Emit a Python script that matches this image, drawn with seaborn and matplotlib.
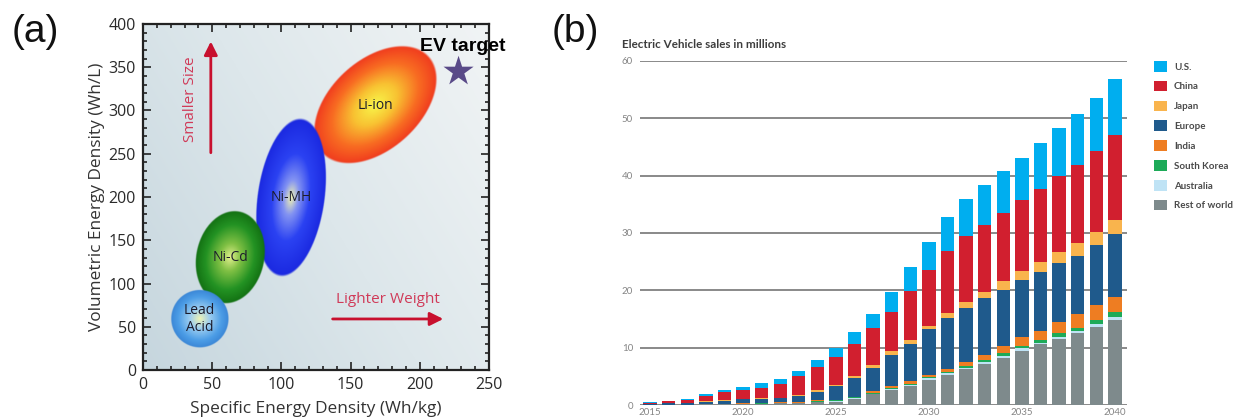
import numpy as np
import pandas as pd
import matplotlib
matplotlib.use("Agg")
import matplotlib.pyplot as plt
from matplotlib.colors import LinearSegmentedColormap
from matplotlib.patches import Patch
import seaborn as sns

# ---------------- panel (a): battery chemistries ----------------
chemistries = ["Lead\nAcid", "Ni-Cd", "Ni-MH", "Li-ion"]
specific_energy = [41, 63, 107, 168]      # Wh/kg, blob centres
volumetric_energy = [59, 130, 199, 306]   # Wh/L, blob centres
ev_target = {"specific": [228], "volumetric": [345]}

# ---------------- panel (b): EV sales ----------------
years = list(range(2015, 2041))
regions = ["U.S.", "China", "Japan", "Europe", "India", "South Korea",
           "Australia", "Rest of world"]
us = [0.12, 0.05, 0.05, 0.3, 0.3, 0.55, 0.75, 0.8, 0.9, 1.3, 1.6, 2.2, 2.5,
      3.4, 4.35, 5.0, 6.0, 6.6, 7.0, 7.3, 7.4, 8.1, 8.5, 9.0, 9.3, 9.8]
china = [0.1, 0.35, 0.55, 0.95, 1.5, 1.55, 1.85, 2.4, 3.2, 4.0, 4.85, 5.6, 6.5,
         6.9, 8.4, 9.7, 10.8, 11.5, 11.7, 11.9, 12.3, 12.6, 13.3, 13.6, 14.1, 14.9]
japan = [0.03, 0.05, 0.05, 0.1, 0.15, 0.1, 0.1, 0.1, 0.15, 0.25, 0.25, 0.25, 0.4,
         0.75, 0.7, 0.6, 0.9, 1.0, 1.1, 1.5, 1.6, 1.8, 1.9, 2.2, 2.3, 2.4]
europe = [0.15, 0.2, 0.3, 0.35, 0.4, 0.7, 0.75, 0.75, 1.2, 1.55, 2.3, 3.3, 4.1,
          5.3, 6.5, 7.9, 8.75, 9.4, 9.8, 9.8, 10.0, 10.3, 10.3, 10.2, 10.5, 11.0]
india = [0.0, 0.02, 0.0, 0.05, 0.05, 0.05, 0.07, 0.07, 0.07, 0.15, 0.15, 0.1, 0.25,
         0.3, 0.45, 0.45, 0.55, 0.7, 1.0, 1.2, 1.5, 1.5, 1.9, 2.3, 2.6, 2.5]
south_korea = [0.0, 0.0, 0.0, 0.03, 0.03, 0.03, 0.05, 0.05, 0.05, 0.1, 0.15, 0.15,
               0.15, 0.25, 0.2, 0.15, 0.3, 0.3, 0.3, 0.5, 0.4, 0.5, 0.6, 0.6, 0.7, 1.0]
australia = [0.0, 0.0, 0.0, 0.02, 0.02, 0.02, 0.03, 0.03, 0.03, 0.05, 0.1, 0.1, 0.1,
             0.15, 0.2, 0.3, 0.3, 0.3, 0.3, 0.4, 0.4, 0.3, 0.4, 0.4, 0.5, 0.5]
rest_of_world = [0.05, 0.05, 0.05, 0.15, 0.15, 0.2, 0.2, 0.3, 0.3, 0.5, 0.55, 1.1,
                 1.9, 2.65, 3.35, 4.4, 5.2, 6.2, 7.2, 8.2, 9.5, 10.6, 11.5, 12.5,
                 13.6, 14.8]
region_colors = ["#00aeef", "#d11f2f", "#f9b44d", "#1f5a8c", "#ee7d22",
                 "#1daa58", "#bfe3f5", "#7e8a8c"]

sns.set_theme(style="white")
plt.rcParams["font.family"] = ["Open Sans", "DejaVu Sans"]

fig = plt.figure(figsize=(12.35, 4.19), dpi=100)

# ================= panel (a) =================
axa = fig.add_axes([143 / 1235, 1 - 370 / 419, 346 / 1235, 346 / 419])
xmin, xmax, ymin, ymax = 0, 250, 0, 400
axa.set_xlim(xmin, xmax)
axa.set_ylim(ymin, ymax)

# soft grey-blue background wash
n = 400
gu, gv = np.meshgrid(np.linspace(0, 1, n), np.linspace(0, 1, n))
wash = 0.62 * gu + 0.38 * gv
bg_cmap = LinearSegmentedColormap.from_list("bg", ["#c6d6de", "#dde7eb", "#f1f4f5"])
axa.imshow(bg_cmap(wash), extent=(xmin, xmax, ymin, ymax), origin="lower",
           aspect="auto", zorder=0)


def blob(ax, cx, cy, major, minor, angle, stops, z):
    """Radially shaded ellipse; sizes are axes fractions (axes is square)."""
    u0 = (cx - xmin) / (xmax - xmin)
    v0 = (cy - ymin) / (ymax - ymin)
    m = 800
    u, v = np.meshgrid(np.linspace(0, 1, m), np.linspace(0, 1, m))
    t = np.deg2rad(angle)
    du, dv = u - u0, v - v0
    a = du * np.cos(t) + dv * np.sin(t)
    b = -du * np.sin(t) + dv * np.cos(t)
    r = np.sqrt((a / (major / 2)) ** 2 + (b / (minor / 2)) ** 2)
    cmap = LinearSegmentedColormap.from_list("blob", stops)
    rgba = cmap(np.clip(r, 0, 1))
    rgba[..., 3] = np.clip((1.0 - r) / 0.03, 0, 1)
    ax.imshow(rgba, extent=(xmin, xmax, ymin, ymax), origin="lower",
              aspect="auto", zorder=z, interpolation="bilinear")


blob_shapes = [  # major, minor (axes fraction), angle (deg)
    (0.168, 0.168, 0),
    (0.272, 0.199, 78),
    (0.462, 0.196, 82),
    (0.420, 0.262, 42),
]
blob_stops = [
    [(0, "#eef4b4"), (0.35, "#9ccdf0"), (0.75, "#4c9de6"), (1, "#3a86d6")],
    [(0, "#e2ef8e"), (0.3, "#80c044"), (0.7, "#239223"), (1, "#127012")],
    [(0, "#f2f4b2"), (0.22, "#8393f2"), (0.55, "#2b42f2"), (1, "#1a28e0")],
    [(0, "#f8f64a"), (0.35, "#f8c232"), (0.7, "#f86c22"), (1, "#f03a1e")],
]
draw_order = [3, 2, 1, 0]
for k, i in enumerate(draw_order):
    mj, mn, ang = blob_shapes[i]
    blob(axa, specific_energy[i], volumetric_energy[i], mj, mn, ang,
         blob_stops[i], 2 + k)
    axa.text(specific_energy[i], volumetric_energy[i], chemistries[i],
             ha="center", va="center", fontsize=10, color="#1c1c2c",
             linespacing=1.15, zorder=10)

sns.scatterplot(x=ev_target["specific"], y=ev_target["volumetric"], marker="*",
                s=520, color="#594a88", edgecolor="none", ax=axa, zorder=12)
axa.text(231, 374, "EV target", ha="center", va="center", fontsize=14,
         fontweight="bold", family=["Liberation Sans", "DejaVu Sans"],
         color="black", zorder=13)

arrow_color = "#c8102e"
axa.annotate("", xy=(49, 383), xytext=(49, 248),
             arrowprops=dict(arrowstyle="-|>", color=arrow_color, lw=2,
                             mutation_scale=20), zorder=11)
axa.text(34, 313, "Smaller Size", rotation=90, ha="center", va="center",
         fontsize=11, color="#d03a58", zorder=11)
axa.annotate("", xy=(219, 59), xytext=(135, 59),
             arrowprops=dict(arrowstyle="-|>", color=arrow_color, lw=2,
                             mutation_scale=20), zorder=11)
axa.text(177, 81, "Lighter Weight", ha="center", va="center", fontsize=11,
         color="#d03a58", zorder=11)

axa.set_xticks(np.arange(0, 251, 50))
axa.set_yticks(np.arange(0, 401, 50))
axa.set_xticks(np.arange(0, 251, 10), minor=True)
axa.set_yticks(np.arange(0, 401, 10), minor=True)
axa.tick_params(which="both", direction="in", top=True, right=True,
                bottom=True, left=True, color="#222222", width=1.2)
axa.tick_params(which="major", length=6, labelsize=11.5, labelcolor="#2a2a2a",
                pad=5)
axa.tick_params(which="minor", length=3)
for s in axa.spines.values():
    s.set_visible(True)
    s.set_color("#222222")
    s.set_linewidth(1.6)
axa.set_xlabel("Specific Energy Density (Wh/kg)", fontsize=12.4,
               color="#333333", labelpad=5.5)
axa.set_ylabel("Volumetric Energy Density (Wh/L)", fontsize=12.4,
               color="#333333", labelpad=3)

fig.text(12 / 1235, 1 - 32 / 419, "(a)", fontsize=28, va="center", ha="left",
         family=["Liberation Sans", "DejaVu Sans"], color="#111111")
fig.text(552 / 1235, 1 - 32 / 419, "(b)", fontsize=28, va="center", ha="left",
         family=["Liberation Sans", "DejaVu Sans"], color="#111111")

# ================= panel (b) =================
series = [us, china, japan, europe, india, south_korea, australia, rest_of_world]
sales = pd.DataFrame({
    "year": np.repeat(years, len(regions)),
    "region": regions * len(years),
    "sales": [series[j][i] for i in range(len(years)) for j in range(len(regions))],
})

axb = fig.add_axes([640 / 1235, 1 - 405 / 419, 487 / 1235, 344 / 419])
sns.histplot(data=sales, x="year", weights="sales", hue="region",
             hue_order=regions, palette=region_colors, multiple="stack",
             discrete=True, shrink=0.72, linewidth=0, alpha=1, legend=False,
             ax=axb, zorder=3)
axb.set_xlim(2014.46, 2040.65)
axb.set_ylim(0, 60)
axb.set_yticks(np.arange(0, 61, 10))
axb.set_xticks(np.arange(2015, 2041, 5))
axb.yaxis.grid(True, color="#6a6a6a", lw=1.1)
axb.xaxis.grid(False)
axb.set_axisbelow(True)
for s in axb.spines.values():
    s.set_visible(False)
axb.tick_params(axis="both", length=0, labelsize=7, labelcolor="#858585")
axb.tick_params(axis="y", pad=5)
axb.tick_params(axis="x", pad=2)
for lab in axb.get_xticklabels() + axb.get_yticklabels():
    lab.set_family(["Lato", "DejaVu Sans"])
axb.set_xlabel("")
axb.set_ylabel("")
fig.text(622 / 1235, 1 - 45 / 419, "Electric Vehicle sales in millions",
         fontsize=8.4, fontweight="bold", color="#3d3d3d", va="center",
         family=["Lato", "DejaVu Sans"])

handles = [Patch(facecolor=c, edgecolor="none") for c in region_colors]
fig.legend(handles, regions, loc="upper left",
           bbox_to_anchor=(1154 / 1235, 1 - 61 / 419), frameon=False,
           prop=dict(family=["Lato", "DejaVu Sans"], size=7, weight="bold"),
           labelcolor="#4a4a4a", handlelength=1.3, handleheight=1.3,
           labelspacing=0.95, handletextpad=0.75, borderpad=0, borderaxespad=0)

fig.savefig("out.png", dpi=100, facecolor="white")
